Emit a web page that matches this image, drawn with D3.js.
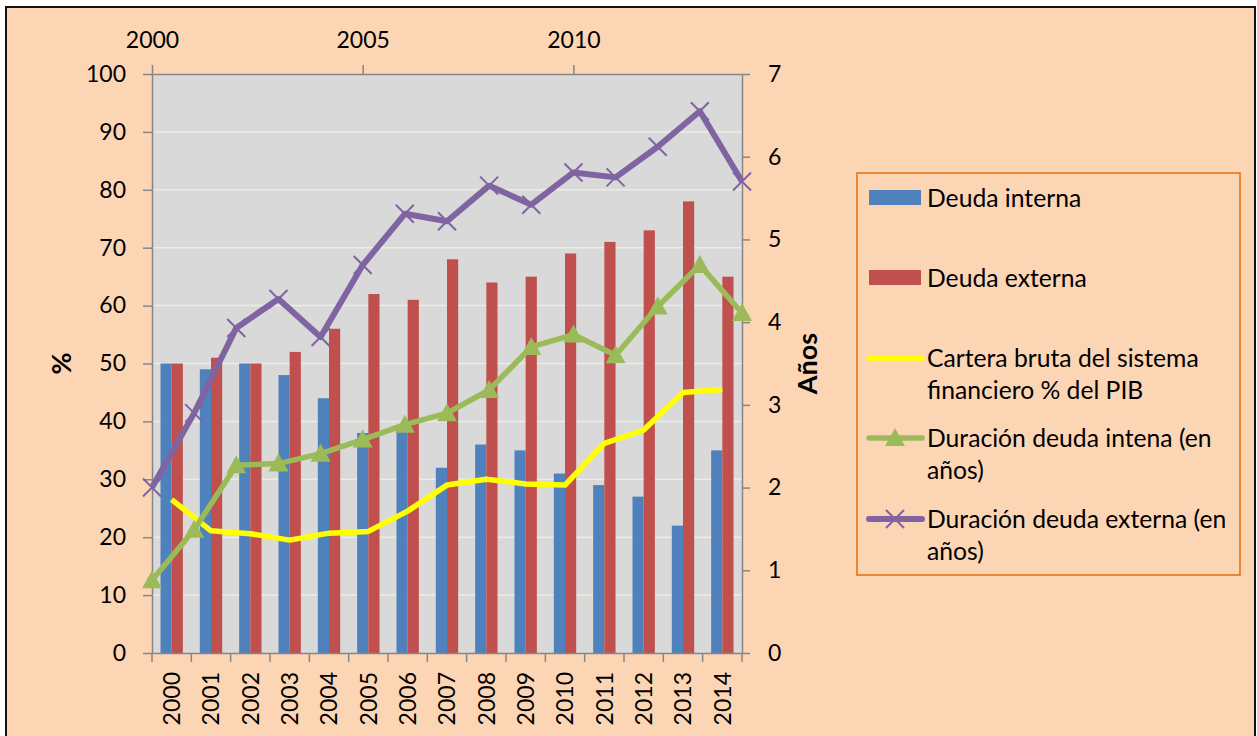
<!DOCTYPE html>
<html>
<head>
<meta charset="utf-8">
<script src="https://cdn.jsdelivr.net/npm/d3@7"></script>
<style>
  body { margin: 0; background: #fff; }
  svg text { font-family: Lato, "Noto Sans", sans-serif; fill: #000; }
</style>
</head>
<body>
<div id="chart"></div>
<script>
////////////////////////////////////////////////////////////////////////
// Data

const years = [2000, 2001, 2002, 2003, 2004, 2005, 2006, 2007, 2008, 2009, 2010, 2011, 2012, 2013, 2014];

// bars, % (left axis)
const deudaInterna = [50, 49, 50, 48, 44, 38, 39, 32, 36, 35, 31, 29, 27, 22, 35];
const deudaExterna = [50, 51, 50, 52, 56, 62, 61, 68, 64, 65, 69, 71, 73, 78, 65];

// line, % del PIB (left axis)
const cartera = [26.5, 21.1, 20.6, 19.5, 20.7, 21.0, 24.5, 29.0, 30.0, 29.2, 29.0, 36.2, 38.5, 45.0, 45.5];

// lines, years (right axis, top year axis)
const durInterna = [0.88, 1.49, 2.27, 2.29, 2.41, 2.58, 2.76, 2.90, 3.18, 3.70, 3.85, 3.60, 4.19, 4.69, 4.11];
const durExterna = [2.0, 2.9, 3.93, 4.28, 3.82, 4.69, 5.31, 5.22, 5.65, 5.42, 5.81, 5.75, 6.12, 6.55, 5.70];

const leftTicks = [0, 10, 20, 30, 40, 50, 60, 70, 80, 90, 100];
const rightTicks = [0, 1, 2, 3, 4, 5, 6, 7];
const topTicks = [2000, 2005, 2010];

const legendLabels = [
  ["Deuda interna"],
  ["Deuda externa"],
  ["Cartera bruta del sistema", "financiero % del PIB"],
  ["Duración deuda intena (en", "años)"],
  ["Duración deuda externa (en", "años)"]
];

////////////////////////////////////////////////////////////////////////
// Layout

let width = 1257, height = 736;
let plot = { left: 152, right: 742, top: 74, bottom: 653 };
let axisColor = "#868686";
let tickFont = 23;

let svg = d3.select("#chart")
  .append("svg")
  .attr("width", width)
  .attr("height", height);

// chart area
svg.append("rect")
  .attr("x", 6).attr("y", 7)
  .attr("width", 1249).attr("height", 745)
  .attr("fill", "#FCD5B5")
  .attr("stroke", "#111")
  .attr("stroke-width", 2);

// plot area
svg.append("rect")
  .attr("x", plot.left).attr("y", plot.top)
  .attr("width", plot.right - plot.left).attr("height", plot.bottom - plot.top)
  .attr("fill", "#D9D9D9");

// Scales
let x = d3.scaleBand()
  .domain(years)
  .range([plot.left, plot.right]);

let xSub = d3.scaleBand()
  .domain(["interna", "externa"])
  .range([0, x.bandwidth()])
  .paddingOuter(0.76);

let xTop = d3.scaleLinear()
  .domain([years[0], years[years.length - 1]])
  .range([plot.left, plot.right]);

let yL = d3.scaleLinear().domain([0, 100]).range([plot.bottom, plot.top]);
let yR = d3.scaleLinear().domain([0, 7]).range([plot.bottom, plot.top]);

// gridlines
svg.append("g")
  .selectAll("line")
  .data(leftTicks.filter(d => d > 0 && d < 100))
  .enter()
  .append("line")
  .attr("x1", plot.left).attr("x2", plot.right)
  .attr("y1", d => yL(d)).attr("y2", d => yL(d))
  .attr("stroke", "#EEEDE0")
  .attr("stroke-width", 1.5);

// bars
let bars = svg.append("g");
bars.selectAll(".bi")
  .data(deudaInterna)
  .enter()
  .append("rect")
  .attr("x", (d, i) => x(years[i]) + xSub("interna"))
  .attr("y", d => yL(d))
  .attr("width", xSub.bandwidth())
  .attr("height", d => yL(0) - yL(d))
  .attr("fill", "#4F81BD");
bars.selectAll(".be")
  .data(deudaExterna)
  .enter()
  .append("rect")
  .attr("x", (d, i) => x(years[i]) + xSub("externa"))
  .attr("y", d => yL(d))
  .attr("width", xSub.bandwidth())
  .attr("height", d => yL(0) - yL(d))
  .attr("fill", "#C0504D");

////////////////////////////////////////////////////////////////////////
// Axes

function styleAxis(g) {
  g.attr("font-family", null).attr("font-size", null);
  g.selectAll("path, line").attr("stroke", axisColor).attr("stroke-width", 1.5);
  g.selectAll("text").style("font-size", tickFont + "px");
}

svg.append("g")
  .attr("transform", `translate(${plot.left},0)`)
  .call(d3.axisLeft(yL).tickValues(leftTicks).tickSize(9).tickSizeOuter(0).tickPadding(17))
  .call(styleAxis);

svg.append("g")
  .attr("transform", `translate(${plot.right},0)`)
  .call(d3.axisRight(yR).tickValues(rightTicks).tickFormat(d3.format("d"))
    .tickSize(8).tickSizeOuter(0).tickPadding(18))
  .call(styleAxis);

svg.append("g")
  .attr("transform", `translate(0,${plot.top})`)
  .call(d3.axisTop(xTop).tickValues(topTicks).tickFormat(d3.format("d"))
    .tickSize(9).tickSizeOuter(0).tickPadding(17))
  .call(styleAxis);

let bottom = svg.append("g")
  .attr("transform", `translate(0,${plot.bottom})`)
  .call(d3.axisBottom(x).tickSize(0).tickSizeOuter(0))
  .call(styleAxis);
bottom.selectAll("text")
  .attr("transform", "rotate(-90)")
  .attr("text-anchor", "end")
  .attr("x", -19)
  .attr("y", 0)
  .attr("dy", "0.36em");

// category boundary ticks
bottom.selectAll(".bound")
  .data(years.map(d => x(d)).concat([x.range()[1]]))
  .enter()
  .append("line")
  .attr("x1", d => d).attr("x2", d => d)
  .attr("y1", 0).attr("y2", 9)
  .attr("stroke", axisColor)
  .attr("stroke-width", 1.5);

// axis titles
svg.append("text")
  .attr("transform", `translate(62,${(plot.top + plot.bottom) / 2}) rotate(-90)`)
  .attr("text-anchor", "middle")
  .attr("dy", "0.35em")
  .style("font-size", "27px")
  .style("font-weight", "bold")
  .text("%");

svg.append("text")
  .attr("transform", `translate(808,${(plot.top + plot.bottom) / 2}) rotate(-90)`)
  .attr("text-anchor", "middle")
  .attr("dy", "0.35em")
  .style("font-size", "27px")
  .style("font-weight", "bold")
  .text("Años");

////////////////////////////////////////////////////////////////////////
// Lines

let yellowLine = d3.line()
  .x((d, i) => x(years[i]) + x.bandwidth() / 2)
  .y(d => yL(d));

let yearsLine = d3.line()
  .x((d, i) => xTop(years[i]))
  .y(d => yR(d));

svg.append("path")
  .datum(cartera)
  .attr("d", yellowLine)
  .attr("fill", "none")
  .attr("stroke", "#FFFF00")
  .attr("stroke-width", 5.5)
  .attr("stroke-linejoin", "round");

svg.append("path")
  .datum(durInterna)
  .attr("d", yearsLine)
  .attr("fill", "none")
  .attr("stroke", "#9BBB59")
  .attr("stroke-width", 5.5)
  .attr("stroke-linejoin", "round");

let triangle = "M0,-10 L10,8 L-10,8 Z";
svg.append("g")
  .selectAll("path")
  .data(durInterna)
  .enter()
  .append("path")
  .attr("transform", (d, i) => `translate(${xTop(years[i])},${yR(d)})`)
  .attr("d", triangle)
  .attr("fill", "#9BBB59");

svg.append("path")
  .datum(durExterna)
  .attr("d", yearsLine)
  .attr("fill", "none")
  .attr("stroke", "#8064A2")
  .attr("stroke-width", 6)
  .attr("stroke-linejoin", "round");

let cross = "M-9,-9 L9,9 M-9,9 L9,-9";
svg.append("g")
  .selectAll("path")
  .data(durExterna)
  .enter()
  .append("path")
  .attr("transform", (d, i) => `translate(${xTop(years[i])},${yR(d)})`)
  .attr("d", cross)
  .attr("stroke", "#8064A2")
  .attr("stroke-width", 2);

////////////////////////////////////////////////////////////////////////
// Legend

let legend = svg.append("g");
legend.append("rect")
  .attr("x", 857).attr("y", 173)
  .attr("width", 383).attr("height", 402)
  .attr("fill", "none")
  .attr("stroke", "#E46C0A")
  .attr("stroke-width", 1.5);

let rowY = [198, 278, 358, 438, 519];
let lineH = 32;

legendLabels.forEach((lines, k) => {
  let t = legend.append("text")
    .attr("x", 927)
    .attr("y", rowY[k])
    .style("font-size", "24.7px");
  lines.forEach((s, j) => {
    t.append("tspan").attr("x", 927).attr("dy", j == 0 ? "0.35em" : lineH).text(s);
  });
});

legend.append("rect").attr("x", 869).attr("y", rowY[0] - 8).attr("width", 52).attr("height", 15).attr("fill", "#4F81BD");
legend.append("rect").attr("x", 869).attr("y", rowY[1] - 8).attr("width", 52).attr("height", 15).attr("fill", "#C0504D");
legend.append("line").attr("x1", 869).attr("x2", 922).attr("y1", rowY[2]).attr("y2", rowY[2])
  .attr("stroke", "#FFFF00").attr("stroke-width", 5.5).attr("stroke-linecap", "round");
legend.append("line").attr("x1", 869).attr("x2", 922).attr("y1", rowY[3]).attr("y2", rowY[3])
  .attr("stroke", "#9BBB59").attr("stroke-width", 5.5).attr("stroke-linecap", "round");
legend.append("path").attr("transform", `translate(895,${rowY[3]})`).attr("d", triangle).attr("fill", "#9BBB59");
legend.append("line").attr("x1", 869).attr("x2", 922).attr("y1", rowY[4]).attr("y2", rowY[4])
  .attr("stroke", "#8064A2").attr("stroke-width", 6).attr("stroke-linecap", "round");
legend.append("path").attr("transform", `translate(895,${rowY[4]})`).attr("d", cross)
  .attr("stroke", "#8064A2").attr("stroke-width", 2);
</script>
</body>
</html>
